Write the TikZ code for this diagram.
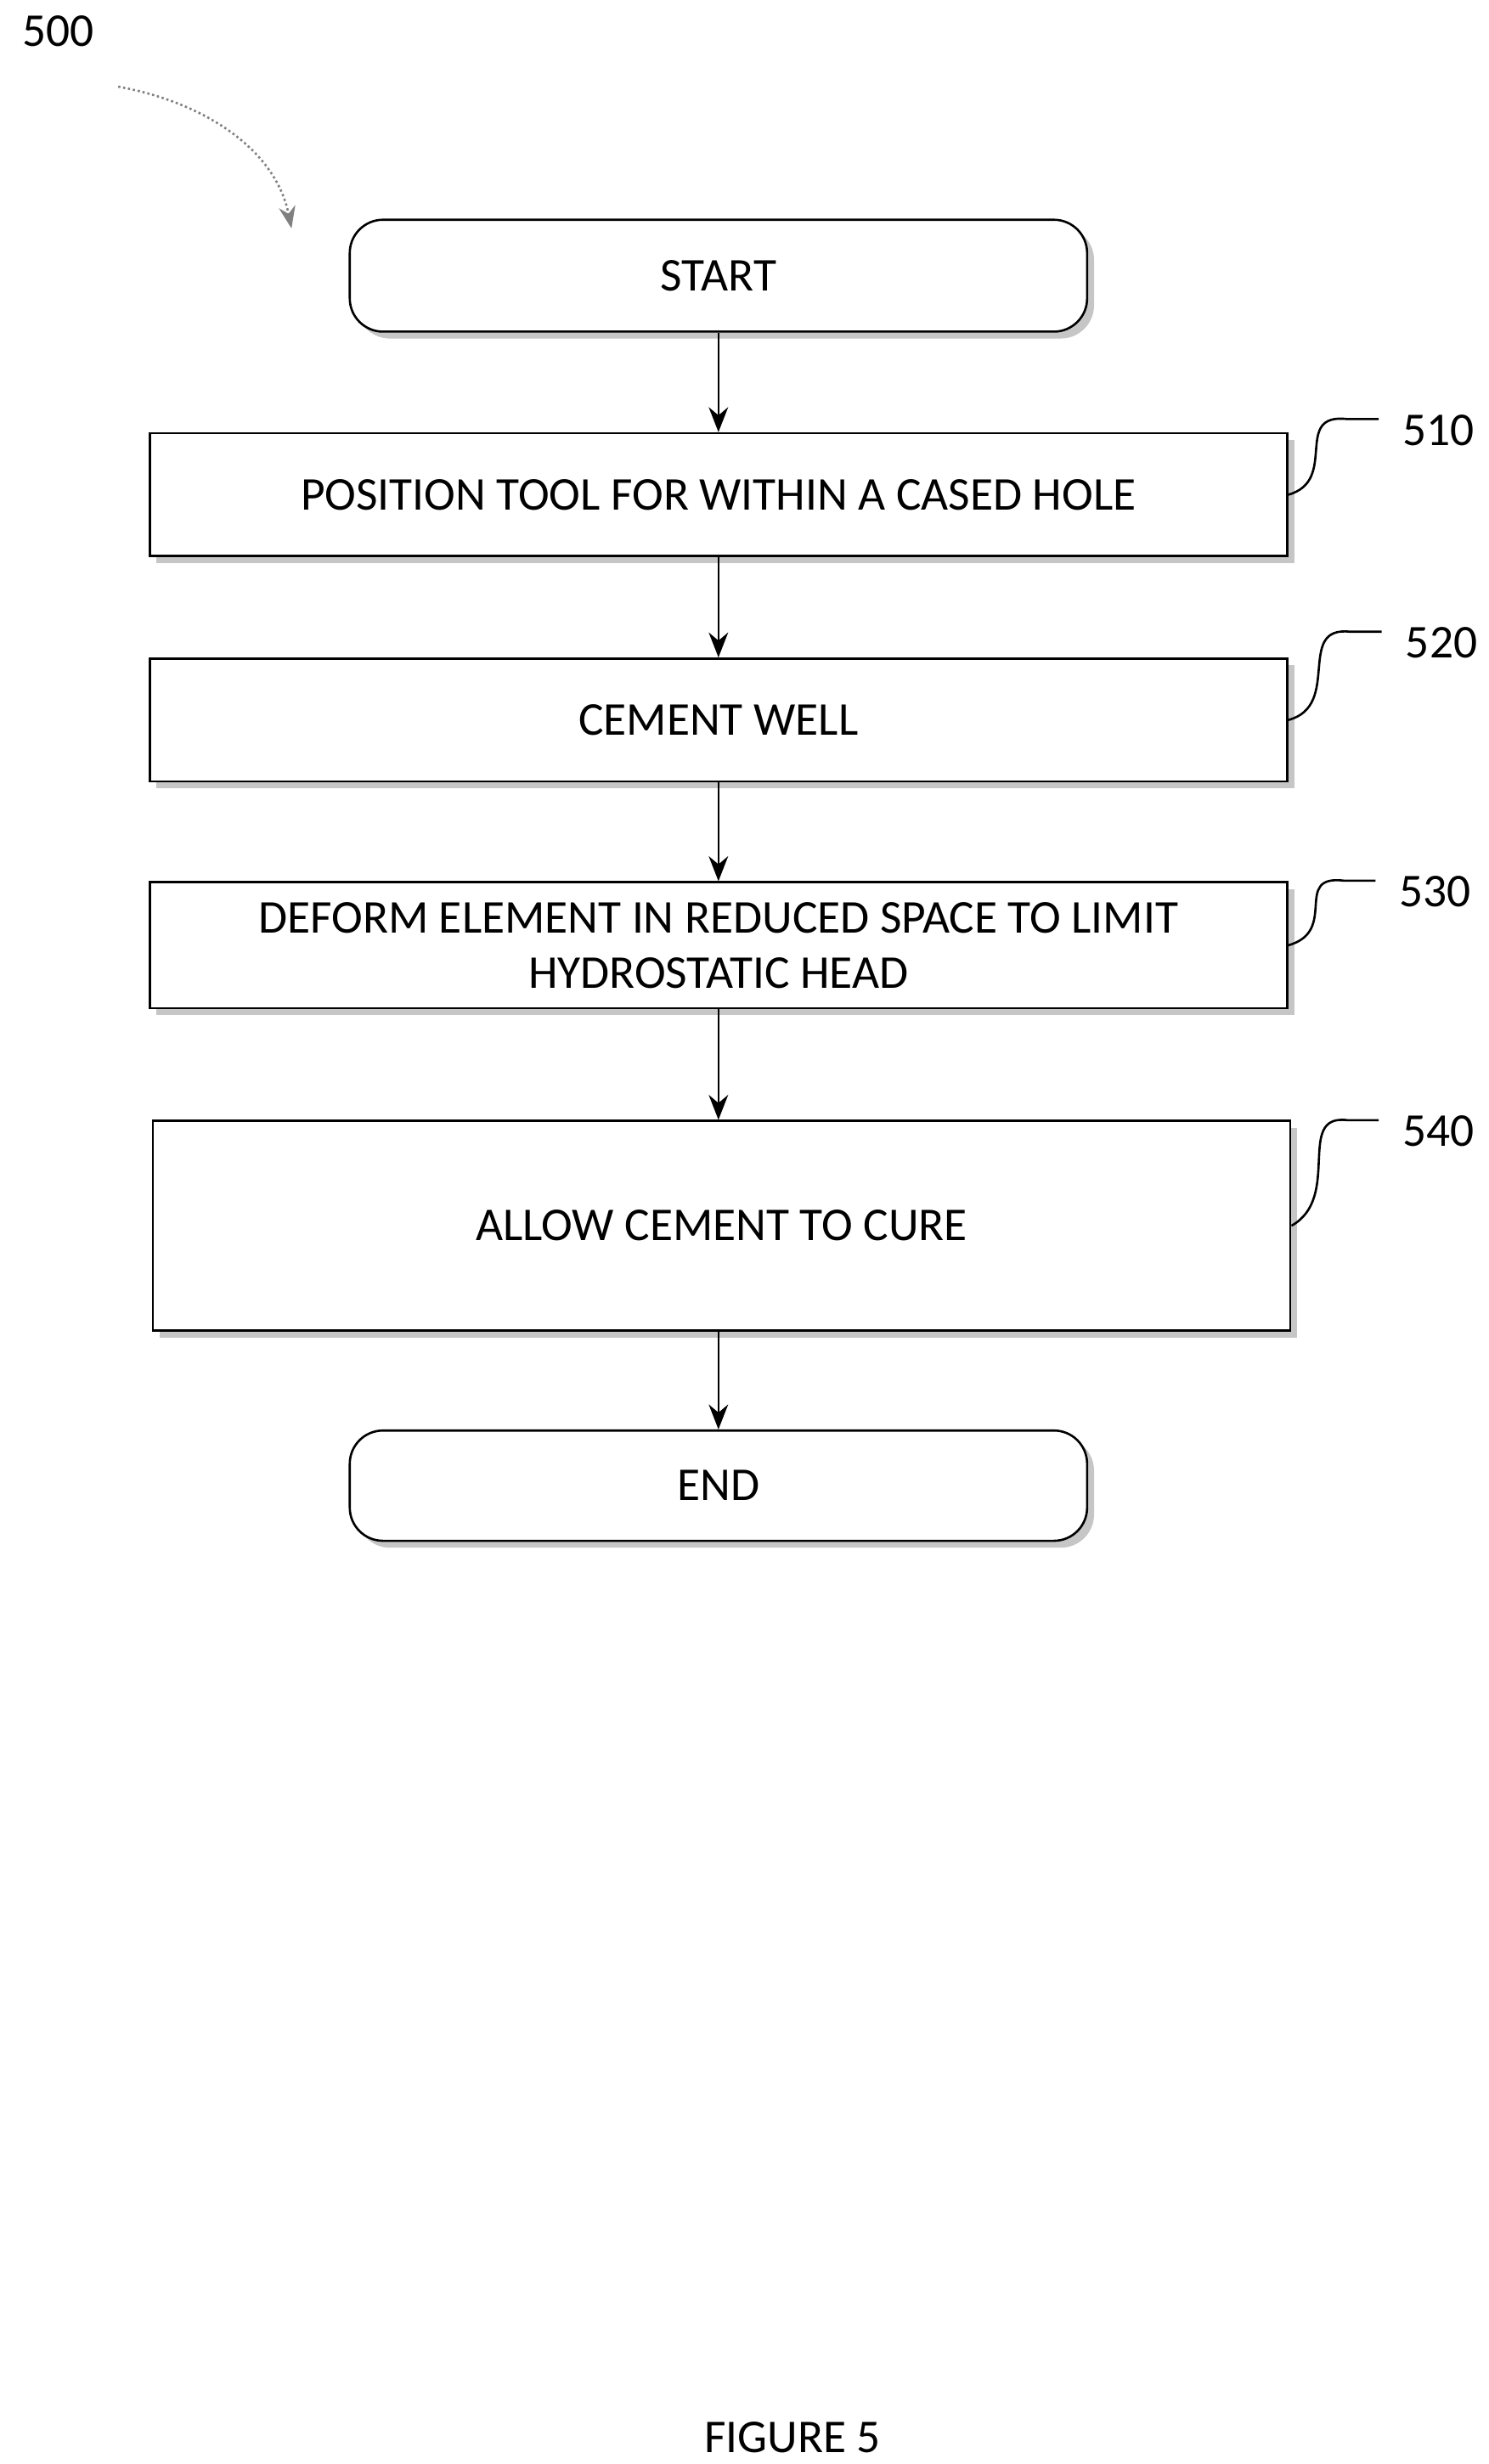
\documentclass[tikz,border=0pt]{standalone}
\usepackage{fontspec}
\setmainfont{Carlito}
\usetikzlibrary{shadows,arrows.meta}
\begin{document}
\begin{tikzpicture}[x=0.02cm,y=-0.02cm,
  box/.style={draw,thick,fill=white,drop shadow={shadow xshift=2.5pt,shadow yshift=-2.5pt,fill=gray!45,opacity=1},align=center,font=\fontsize{17}{20}\selectfont,inner sep=0pt},
  term/.style={box,rounded corners=12pt},
  arr/.style={thick,-{Stealth[length=9pt,width=7pt]}},
  lead/.style={thick},
  lbl/.style={font=\fontsize{17}{20}\selectfont,anchor=west}]
\useasboundingbox (0,0) rectangle (945,1564);
\node[term,minimum width=468*0.02cm,minimum height=71*0.02cm] (start) at (456,175) {START};
\node[box,minimum width=722*0.02cm,minimum height=78*0.02cm] (b510) at (456,314) {POSITION TOOL FOR WITHIN A CASED HOLE};
\node[box,minimum width=722*0.02cm,minimum height=78*0.02cm] (b520) at (456,457) {CEMENT WELL};
\node[box,minimum width=722*0.02cm,minimum height=80*0.02cm] (b530) at (456,600) {DEFORM ELEMENT IN REDUCED SPACE TO LIMIT\\HYDROSTATIC HEAD};
\node[box,minimum width=722*0.02cm,minimum height=133*0.02cm] (b540) at (458,778) {ALLOW CEMENT TO CURE};
\node[term,minimum width=468*0.02cm,minimum height=70*0.02cm] (end) at (456,943) {END};
\draw[arr] (start) -- (b510);
\draw[arr] (b510) -- (b520);
\draw[arr] (b520) -- (b530);
\draw[arr] (b530.south -| 456,0) -- (b540.north -| 456,0);
\draw[arr] (b540.south -| 456,0) -- (end.north -| 456,0);
\node[lbl] (l510) at (884,273) {510};
\node[lbl] (l520) at (886,408) {520};
\node[lbl] (l530) at (882,566) {530};
\node[lbl] (l540) at (884,718) {540};
\coordinate (e510) at (875,266);
\coordinate (e520) at (877,401);
\coordinate (e530) at (873,559);
\coordinate (e540) at (875,711);
\draw[lead] (b510.east) .. controls (850,305) and (820,262) .. (855,266) -- (e510);
\draw[lead] (b520.east) .. controls (852,448) and (822,397) .. (857,401) -- (e520);
\draw[lead] (b530.east) .. controls (850,591) and (820,555) .. (853,559) -- (e530);
\draw[lead] (b540.east) .. controls (852,760) and (822,707) .. (855,711) -- (e540);
\node[lbl] (n500) at (8,20) {500};
\coordinate (a0) at (75,55);
\draw[thick,gray,densely dotted,-{Stealth[length=8pt,width=6pt]}] (a0) .. controls (130,65) and (175,95) .. (185,145);
\node[font=\fontsize{17}{20}\selectfont] (fig) at (503,1547) {FIGURE 5};
\end{tikzpicture}
\end{document}
